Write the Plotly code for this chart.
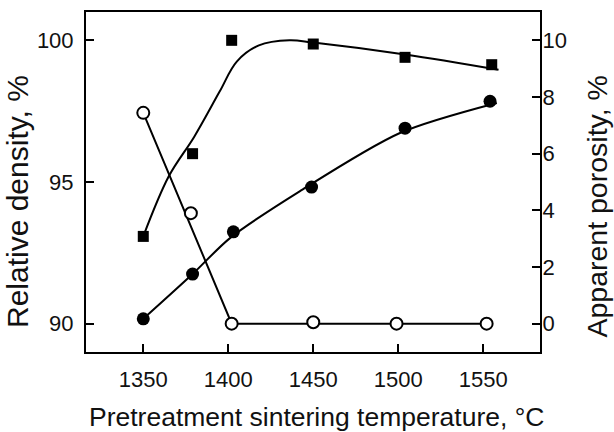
import plotly.graph_objects as go

sq_temp = [1350, 1379, 1402, 1450, 1504, 1555]
sq_density = [93.08, 96.0, 100.0, 99.87, 99.4, 99.14]

dot_temp = [1350, 1379, 1403, 1449, 1504, 1554]
dot_density = [90.17, 91.75, 93.24, 94.82, 96.9, 97.85]

open_temp = [1350, 1378, 1402, 1450, 1499, 1552]
open_porosity = [7.44, 3.9, 0.0, 0.05, 0.0, 0.0]

# hand-drawn fit curves
sq_fit_temp = [1350, 1365, 1380, 1395, 1405, 1418, 1436, 1450, 1504, 1559]
sq_fit_density = [93.08, 95.2, 96.6, 98.2, 99.25, 99.82, 100.0, 99.92, 99.5, 98.96]

dot_fit_temp = [1350, 1379, 1401, 1442, 1501, 1558]
dot_fit_density = [90.17, 91.75, 93.02, 94.67, 96.73, 97.79]

open_fit_temp = [1350, 1402, 1552]
open_fit_porosity = [7.44, 0.0, 0.0]

x_ticks = [1350, 1400, 1450, 1500, 1550]
left_ticks = [90, 95, 100]
right_ticks = [0, 2, 4, 6, 8, 10]

FONT = "Arial, Liberation Sans, sans-serif"
INK = "#111111"

fig = go.Figure()

# fit lines
fig.add_trace(go.Scatter(x=sq_fit_temp, y=sq_fit_density, mode="lines",
                         line=dict(color="black", width=2, shape="spline", smoothing=1.0)))
fig.add_trace(go.Scatter(x=dot_fit_temp, y=dot_fit_density, mode="lines",
                         line=dict(color="black", width=2, shape="spline", smoothing=0.8)))
fig.add_trace(go.Scatter(x=open_fit_temp, y=open_fit_porosity, mode="lines", yaxis="y2",
                         line=dict(color="black", width=2)))

# markers
fig.add_trace(go.Scatter(x=sq_temp, y=sq_density, mode="markers",
                         marker=dict(symbol="square", size=11, color="black")))
fig.add_trace(go.Scatter(x=dot_temp, y=dot_density, mode="markers",
                         marker=dict(symbol="circle", size=13, color="black")))
fig.add_trace(go.Scatter(x=open_temp, y=open_porosity, mode="markers", yaxis="y2",
                         marker=dict(symbol="circle", size=12, color="white",
                                     line=dict(color="black", width=2))))

axis_common = dict(showline=True, linecolor="black", linewidth=2, ticks="inside",
                   ticklen=8, tickwidth=1.5, tickcolor="black", showgrid=False,
                   zeroline=False, automargin=False,
                   tickfont=dict(family=FONT, size=22, color=INK))

fig.update_layout(
    width=614, height=432,
    margin=dict(l=86, r=74, t=12, b=80),
    paper_bgcolor="white", plot_bgcolor="white",
    showlegend=False,
    font=dict(family=FONT, color=INK),
    xaxis=dict(range=[1316.3, 1583.4], tickvals=x_ticks, mirror=True,
               ticklabelstandoff=7, **axis_common),
    yaxis=dict(range=[89, 101], tickvals=left_ticks, ticklabelstandoff=6,
               **axis_common),
    yaxis2=dict(range=[-1, 11], tickvals=right_ticks, overlaying="y", side="right",
                ticklabelstandoff=-4, **axis_common),
)

# axis titles, placed where the reference has them
fig.add_annotation(text="Pretreatment sintering temperature, \u00b0C",
                   xref="paper", yref="paper", x=0.507, y=-0.19,
                   xanchor="center", yanchor="middle", showarrow=False,
                   font=dict(family=FONT, size=26.5, color=INK))
fig.add_annotation(text="Relative density, %", textangle=-90,
                   xref="paper", yref="paper", x=-0.152, y=0.444,
                   xanchor="center", yanchor="middle", showarrow=False,
                   font=dict(family=FONT, size=30, color=INK))
fig.add_annotation(text="Apparent porosity, %", textangle=-90,
                   xref="paper", yref="paper", x=1.125, y=0.427,
                   xanchor="center", yanchor="middle", showarrow=False,
                   font=dict(family=FONT, size=28.5, color=INK))

# drop the page's default body margin so the figure sits at the window corner
fig.write_html("out.html", config={"displayModeBar": False},
               post_script="document.body.style.margin='0';")
